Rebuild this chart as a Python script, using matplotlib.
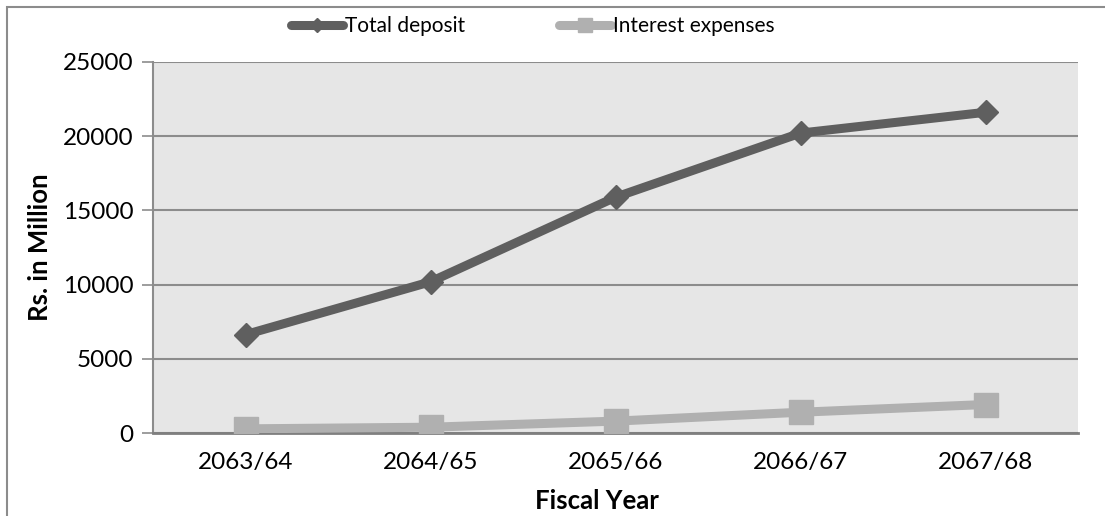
import matplotlib.pyplot as plt
from matplotlib.patches import Rectangle

plt.rcParams['font.family'] = ['Lato', 'DejaVu Sans']

years = ['2063/64', '2064/65', '2065/66', '2066/67', '2067/68']
total_deposit = [6630, 10190, 15890, 20210, 21610]
interest_expenses = [280, 390, 800, 1400, 1920]

fig = plt.figure(figsize=(11.05, 5.16), dpi=100)
ax = fig.add_axes([153 / 1105, 1 - 433 / 516, 925 / 1105, 371 / 516])
ax.set_facecolor('#e6e6e6')

x = range(len(years))
ax.plot(x, total_deposit, color='#5f5f5f', lw=6.5, marker='D', ms=12.5,
        solid_capstyle='round', label='Total deposit', zorder=3)
ax.plot(x, interest_expenses, color='#b0b0b0', lw=6.5, marker='s', ms=17,
        solid_capstyle='round', label='Interest expenses', zorder=3)

ax.set_xlim(-0.5, len(years) - 0.5)
ax.set_ylim(0, 25000)
ax.set_yticks(range(0, 25001, 5000))
ax.set_xticks(list(x))
ax.set_xticklabels(years)
ax.grid(axis='y', color='#8c8c8c', lw=1.5)
ax.set_axisbelow(True)

for side in ['top', 'right']:
    ax.spines[side].set_visible(False)
ax.spines['left'].set_color('#8c8c8c')
ax.spines['left'].set_linewidth(1.5)
ax.spines['bottom'].set_color('#7f7f7f')
ax.spines['bottom'].set_linewidth(2)
ax.tick_params(axis='y', length=8, width=1.2, color='#8c8c8c', labelsize=17.5, pad=6)
ax.tick_params(axis='x', length=0, labelsize=17.5, pad=14)

ax.set_xlabel('Fiscal Year', fontsize=18.5, fontweight='bold', labelpad=4)
ax.xaxis.set_label_coords(0.48, -0.15)
ax.set_ylabel('Rs. in Million', fontsize=18.5, fontweight='bold', labelpad=8)

leg = fig.legend(loc='center', bbox_to_anchor=(533 / 1105, 1 - 26 / 516), ncol=2,
                 frameon=False, fontsize=15, handlelength=2.5, handletextpad=0.1,
                 columnspacing=4.5, markerscale=0.6)

# outer chart border
fig.patches.append(Rectangle((7 / 1105, -0.1), 1.2, 1 - 7 / 516 + 0.1,
                             transform=fig.transFigure, fill=False,
                             edgecolor='#8c8c8c', lw=1.5))

fig.savefig('out.png', dpi=100)
